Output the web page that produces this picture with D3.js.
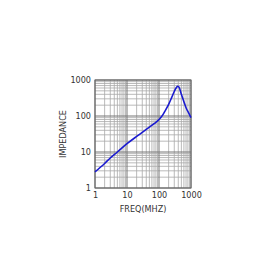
<!DOCTYPE html>
<html>
<head>
<meta charset="utf-8">
<script src="https://cdn.jsdelivr.net/npm/d3@7"></script>
<style>
  body { margin: 0; background: #fff; }
  text { font-family: "DejaVu Sans Condensed", "DejaVu Sans", sans-serif; fill: #333; }
</style>
</head>
<body>
<div id="chart"></div>
<script>
// data
const freq = [1, 2, 3, 5, 10, 20, 30, 50, 70, 100, 130, 150, 200, 250, 300, 350, 380, 420, 500, 600, 700, 850, 1000];
const impedance = [2.8, 4.8, 6.8, 10, 17, 27, 35, 49, 61, 80, 106, 132, 210, 330, 480, 620, 670, 640, 400, 250, 170, 120, 90];
const xTicks = [1, 10, 100, 1000];
const yTicks = [1, 10, 100, 1000];

const W = 280, H = 280;
const box = {left: 95, right: 191, top: 80, bottom: 188};

const svg = d3.select("#chart").append("svg")
    .attr("width", W).attr("height", H);

const x = d3.scaleLog().domain([1, 1000]).range([box.left, box.right]);
const y = d3.scaleLog().domain([1, 1000]).range([box.bottom, box.top]);

// minor grid values
const minors = [];
for (let d = 1; d < 1000; d *= 10)
    for (let k = 2; k <= 9; k++) minors.push(d * k);

const grid = svg.append("g");
grid.selectAll("line.vx").data(minors).join("line")
    .attr("x1", d => x(d)).attr("x2", d => x(d))
    .attr("y1", box.top).attr("y2", box.bottom)
    .attr("stroke", "#a8a8a8").attr("stroke-width", 0.8);
grid.selectAll("line.hy").data(minors).join("line")
    .attr("y1", d => y(d)).attr("y2", d => y(d))
    .attr("x1", box.left).attr("x2", box.right)
    .attr("stroke", "#a8a8a8").attr("stroke-width", 0.8);
grid.selectAll("line.mx").data(xTicks).join("line")
    .attr("x1", d => x(d)).attr("x2", d => x(d))
    .attr("y1", box.top).attr("y2", box.bottom)
    .attr("stroke", "#777").attr("stroke-width", 1);
grid.selectAll("line.my").data(yTicks).join("line")
    .attr("y1", d => y(d)).attr("y2", d => y(d))
    .attr("x1", box.left).attr("x2", box.right)
    .attr("stroke", "#777").attr("stroke-width", 1);

svg.append("rect")
    .attr("x", box.left).attr("y", box.top)
    .attr("width", box.right - box.left).attr("height", box.bottom - box.top)
    .attr("fill", "none").attr("stroke", "#666").attr("stroke-width", 1);

// axes, text only
const xAxis = d3.axisBottom(x).tickValues(xTicks).tickFormat(d3.format("d")).tickSize(0).tickPadding(4);
svg.append("g")
    .attr("transform", `translate(0,${box.bottom})`)
    .call(xAxis)
    .call(g => g.select(".domain").remove())
    .call(g => g.selectAll("text").style("font-size", "9px").style("fill", "#333"));

const yAxis = d3.axisLeft(y).tickValues(yTicks).tickFormat(d3.format("d")).tickSize(0).tickPadding(4);
svg.append("g")
    .attr("transform", `translate(${box.left},0)`)
    .call(yAxis)
    .call(g => g.select(".domain").remove())
    .call(g => g.selectAll("text").style("font-size", "9px").style("fill", "#333"));

svg.append("text")
    .attr("x", (box.left + box.right) / 2).attr("y", 212)
    .attr("text-anchor", "middle")
    .style("font-size", "9px")
    .text("FREQ(MHZ)");

svg.append("text")
    .attr("transform", `translate(66,${(box.top + box.bottom) / 2}) rotate(-90)`)
    .attr("text-anchor", "middle")
    .style("font-size", "9px")
    .text("IMPEDANCE");

const line = d3.line()
    .x((d, i) => x(freq[i]))
    .y(d => y(d))
    .curve(d3.curveMonotoneX);

svg.append("path")
    .datum(impedance)
    .attr("fill", "none")
    .attr("stroke", "#1a1ad0")
    .attr("stroke-width", 1.6)
    .attr("d", line);
</script>
</body>
</html>
